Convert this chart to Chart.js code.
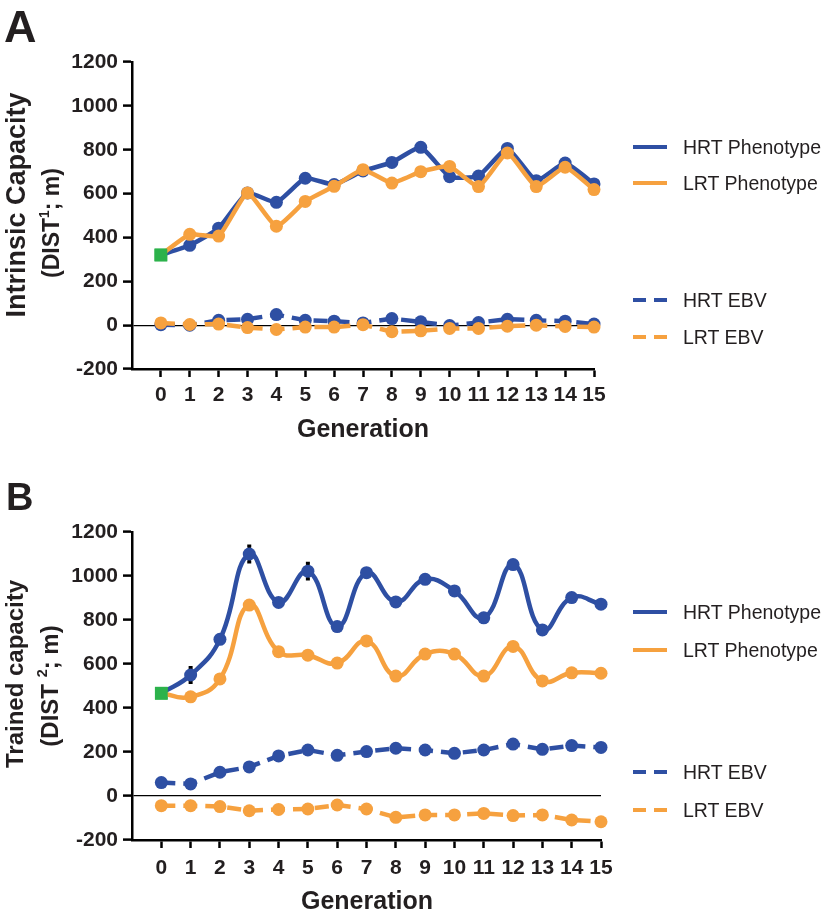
<!DOCTYPE html>
<html><head><meta charset="utf-8">
<script src="https://cdn.jsdelivr.net/npm/chart.js@4"></script>
<style>
html,body{margin:0;padding:0;background:#fff;}
body{width:822px;height:919px;position:relative;overflow:hidden;font-family:'Liberation Sans',Arial,Helvetica,sans-serif;color:#231f20;}
canvas{position:absolute;left:0;}
.letter{position:absolute;font-weight:bold;line-height:1;white-space:nowrap;}
.ytitle{position:absolute;width:300px;text-align:center;font-weight:bold;transform:rotate(-90deg);transform-origin:50% 50%;white-space:nowrap;}
.ytitle sup{font-size:0.6em;vertical-align:0.75em;line-height:0;}
.xtitle{position:absolute;width:300px;text-align:center;font-weight:bold;white-space:nowrap;line-height:1.2;}
.leg{position:absolute;left:633px;height:0;width:190px;}
.leg .s{position:absolute;left:0;top:-2px;width:34px;height:4px;}
.leg .d1,.leg .d2{position:absolute;top:-2px;width:13px;height:4px;}
.leg .d1{left:0}.leg .d2{left:21px}
.leg .t{position:absolute;left:50px;top:-12px;font-size:19.5px;line-height:24px;white-space:nowrap;color:#231f20;}
</style>
</head>
<body>
<canvas id="cA" width="822" height="460" style="top:0"></canvas>
<canvas id="cB" width="822" height="459" style="top:460px"></canvas>

<div class="letter" style="left:4px;top:4px;font-size:45px;">A</div>
<div class="letter" style="left:6px;top:478px;font-size:38px;">B</div>

<div class="ytitle" style="left:-134px;top:189px;font-size:27px;line-height:32px;">Intrinsic Capacity</div>
<div class="ytitle" style="left:-99px;top:208px;font-size:23px;line-height:30px;">(DIST<sup>1</sup>; m)</div>
<div class="ytitle" style="left:-135px;top:659px;font-size:24px;line-height:30px;">Trained capacity</div>
<div class="ytitle" style="left:-100px;top:671px;font-size:24px;line-height:30px;">(DIST <sup>2</sup>; m)</div>

<div class="xtitle" style="left:213px;top:413px;font-size:25px;">Generation</div>
<div class="xtitle" style="left:217px;top:885px;font-size:25px;">Generation</div>

<div class="leg" style="top:147px"><div class="s" style="background:#2e4fa3"></div><div class="t">HRT Phenotype</div></div>
<div class="leg" style="top:183px"><div class="s" style="background:#f6a13f"></div><div class="t">LRT Phenotype</div></div>
<div class="leg" style="top:300px"><div class="d1" style="background:#2e4fa3"></div><div class="d2" style="background:#2e4fa3"></div><div class="t">HRT EBV</div></div>
<div class="leg" style="top:337px"><div class="d1" style="background:#f6a13f"></div><div class="d2" style="background:#f6a13f"></div><div class="t">LRT EBV</div></div>

<div class="leg" style="top:612px"><div class="s" style="background:#2e4fa3"></div><div class="t">HRT Phenotype</div></div>
<div class="leg" style="top:650px"><div class="s" style="background:#f6a13f"></div><div class="t">LRT Phenotype</div></div>
<div class="leg" style="top:772px"><div class="d1" style="background:#2e4fa3"></div><div class="d2" style="background:#2e4fa3"></div><div class="t">HRT EBV</div></div>
<div class="leg" style="top:810px"><div class="d1" style="background:#f6a13f"></div><div class="d2" style="background:#f6a13f"></div><div class="t">LRT EBV</div></div>

<script>
// ---- data ----
const generations = [0,1,2,3,4,5,6,7,8,9,10,11,12,13,14,15];
const yTickValues = [-200,0,200,400,600,800,1000,1200];
const xTickValues = [0,1,2,3,4,5,6,7,8,9,10,11,12,13,14,15];

// Panel A: Intrinsic capacity
const hrtPhenA = [320,364,442,603,560,670,641,703,742,811,677,680,806,659,739,644];
const lrtPhenA = [320,414,406,603,451,564,633,709,648,700,724,632,785,632,720,618];
const hrtEbvA  = [2,0,22,27,48,22,18,10,30,15,-2,12,27,22,18,5];
const lrtEbvA  = [10,3,5,-11,-20,-9,-9,2,-30,-26,-15,-15,-5,0,-6,-9];

// Panel B: Trained capacity
const hrtPhenB = [467,550,712,1100,880,1022,770,1015,882,985,932,810,1052,755,902,872];
const lrtPhenB = [467,451,532,868,656,640,604,705,545,645,645,545,680,523,560,558];
const hrtEbvB  = [61,55,108,132,182,209,185,202,217,209,194,209,236,212,229,221];
const lrtEbvB  = [-44,-44,-48,-67,-61,-59,-41,-59,-97,-86,-86,-79,-89,-86,-109,-117];
const hrtPhenBErr = [null,34,null,36,null,36,null,null,null,null,null,null,null,null,null,null];

// ---- styling ----
const BLUE = '#2e4fa3', ORANGE = '#f6a13f', GREEN = '#2cb24b', INK = '#231f20';
const FONT = "'Liberation Sans', Arial, Helvetica, sans-serif";

function pts(arr){ return generations.map((g,i)=>({x:g,y:arr[i]})); }

function phenDataset(label, arr, color, tension){
  return {
    label, data: pts(arr), borderColor: color, borderWidth: 4.5, tension,
    borderJoinStyle: 'round', clip: false,
    pointStyle: c => c.dataIndex===0 ? 'rect' : 'circle',
    pointRadius: c => c.dataIndex===0 ? 9 : 6.5,
    pointBackgroundColor: c => c.dataIndex===0 ? GREEN : color,
    pointBorderWidth: 0
  };
}
function ebvDataset(label, arr, color){
  return {
    label, data: pts(arr), borderColor: color, borderWidth: 4.5, tension: 0,
    borderDash: [14,8], clip: false,
    pointRadius: 6.5, pointBackgroundColor: color, pointBorderWidth: 0
  };
}

const errBars = {
  id: 'errbars',
  beforeDatasetsDraw(chart, args, opts){
    if (!opts || !opts.errors) return;
    const xs = chart.scales.x, ys = chart.scales.y, ctx = chart.ctx;
    const values = opts.values;
    ctx.save();
    ctx.strokeStyle = '#000'; ctx.lineWidth = 3;
    opts.errors.forEach((e,i)=>{
      if (e == null) return;
      const px = xs.getPixelForValue(generations[i]);
      const yT = ys.getPixelForValue(values[i]+e), yB = ys.getPixelForValue(values[i]-e);
      ctx.beginPath();
      ctx.moveTo(px, yB); ctx.lineTo(px, yT);
      ctx.moveTo(px-2, yT); ctx.lineTo(px+2, yT);
      ctx.moveTo(px-2, yB); ctx.lineTo(px+2, yB);
      ctx.stroke();
    });
    ctx.restore();
  }
};

function makeChart(id, cfg){
  return new Chart(document.getElementById(id), {
    type: 'line',
    data: { datasets: cfg.datasets },
    plugins: [errBars],
    options: {
      responsive: false, animation: false, devicePixelRatio: 1,
      layout: { padding: { left: 0, right: cfg.padRight, top: cfg.padTop, bottom: 0 } },
      plugins: { legend: { display: false }, tooltip: { enabled: false }, errbars: cfg.err || {} },
      scales: {
        x: {
          type: 'linear', min: -1, max: 15,
          afterBuildTicks: s => { s.ticks = xTickValues.map(v=>({value:v})); },
          afterFit: s => { s.height = cfg.xHeight; },
          grid: { drawOnChartArea: false, drawTicks: true, tickLength: 8, tickColor: '#000', tickWidth: 2.5, color: '#000' },
          border: { display: true, color: '#000', width: 2.5 },
          ticks: { color: INK, padding: cfg.xPad, maxRotation: 0, autoSkip: false,
                   font: { family: FONT, size: 21, weight: 'bold' }, callback: v => String(v) }
        },
        y: {
          type: 'linear', min: -200, max: 1200,
          afterBuildTicks: s => { s.ticks = yTickValues.map(v=>({value:v})); },
          afterFit: s => { s.width = 132; },
          grid: { drawOnChartArea: true, drawTicks: true, tickLength: 9, tickColor: '#000', tickWidth: 2.5,
                  color: c => (c.tick && c.tick.value === 0) ? '#000' : 'rgba(0,0,0,0)', lineWidth: 1.2 },
          border: { display: true, color: '#000', width: 2.5 },
          ticks: { color: INK, padding: 5, font: { family: FONT, size: 21, weight: 'bold' }, callback: v => String(v) }
        }
      }
    }
  });
}

makeChart('cA', {
  padRight: 822-594, padTop: 62, xHeight: 460-369, xPad: 6,
  datasets: [
    ebvDataset('LRT EBV', lrtEbvA, ORANGE),
    phenDataset('LRT Phenotype', lrtPhenA, ORANGE, 0.15),
    ebvDataset('HRT EBV', hrtEbvA, BLUE),
    phenDataset('HRT Phenotype', hrtPhenA, BLUE, 0.15)
  ]
});

makeChart('cB', {
  padRight: 822-601, padTop: 72, xHeight: 459-380, xPad: 8,
  err: { errors: hrtPhenBErr, values: hrtPhenB },
  datasets: [
    ebvDataset('LRT EBV', lrtEbvB, ORANGE),
    phenDataset('LRT Phenotype', lrtPhenB, ORANGE, 0.45),
    ebvDataset('HRT EBV', hrtEbvB, BLUE),
    phenDataset('HRT Phenotype', hrtPhenB, BLUE, 0.45)
  ]
});
</script>
</body></html>
